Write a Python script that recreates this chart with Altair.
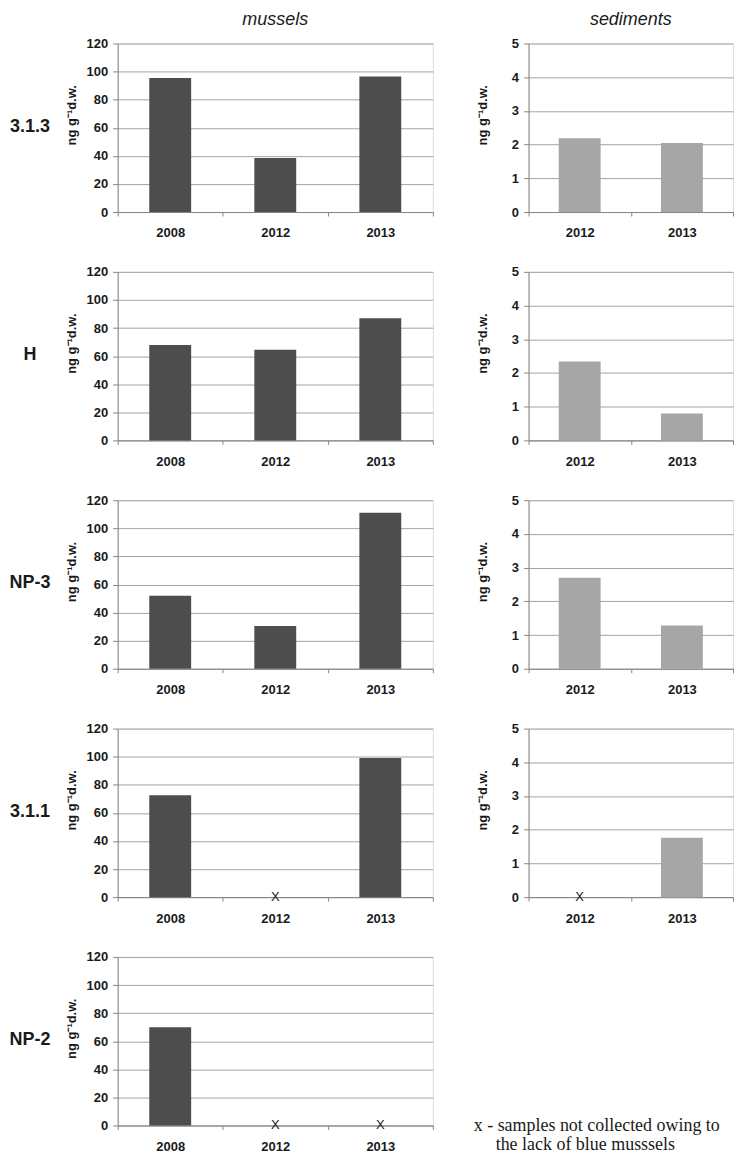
import altair as alt
import pandas as pd

# ---- data ----
sites = ["3.1.3", "H", "NP-3", "3.1.1", "NP-2"]
mussel_years = ["2008", "2012", "2013"]
sediment_years = ["2012", "2013"]

mussels_313 = [95.5, 38.5, 96.5]
mussels_h = [68.0, 64.5, 87.0]
mussels_np3 = [52.0, 30.5, 111.0]
mussels_311 = [72.5, None, 99.0]
mussels_np2 = [70.0, None, None]

sediments_313 = [2.19, 2.05]
sediments_h = [2.34, 0.80]
sediments_np3 = [2.70, 1.28]
sediments_311 = [None, 1.76]

mussel_ticks = [0, 20, 40, 60, 80, 100, 120]
sediment_ticks = [0, 1, 2, 3, 4, 5]

column_titles = ["mussels", "sediments"]
y_title = "ng g\u207b\u00b9d.w."
missing_mark = "X"
note_lines = ["x - samples not collected owing to", "the lack of blue musssels"]

# ---- style ----
FONT = "Liberation Sans"
SERIF = "Liberation Serif"
TXT = "#1a1a1a"
DARK = "#4d4d4d"
LIGHT = "#a6a6a6"
GRID = "#a3a3a3"
AXIS = "#868686"
PW_M, PW_S, PH = 316, 205, 169


def col_title(t):
    return alt.TitleParams(
        text=t, frame="group", anchor="middle", orient="top", offset=-5,
        baseline="alphabetic", font=FONT, fontSize=18, fontStyle="italic",
        fontWeight="normal", color=TXT,
    )


def panel(years, values, color, ticks, width, label=None, title=None):
    df = pd.DataFrame({"year": years, "value": values})
    df["missing"] = df["value"].isna()
    df["base"] = 0
    x = alt.X(
        "year:N",
        scale=alt.Scale(domain=years, paddingInner=0, paddingOuter=0),
        axis=alt.Axis(
            title=None, labelAngle=0, tickBand="extent", grid=False,
            labelFont=FONT, labelFontSize=13, labelFontWeight="bold",
            labelColor=TXT, domainColor=AXIS, tickColor=AXIS,
            tickSize=4, labelPadding=11,
        ),
    )
    yaxis = alt.Axis(
        values=ticks, title=y_title, titleX=-46, titleY=PH / 2 - 13,
        titleAngle=270, titleAlign="center", titleBaseline="middle",
        titleFont=FONT, titleFontSize=13, titleFontWeight="bold",
        titleColor=TXT, labelFont=FONT, labelFontSize=13,
        labelFontWeight="bold", labelColor=TXT, labelPadding=5,
        tickSize=5, tickColor=AXIS, domainColor=AXIS, gridColor=GRID,
    )
    yscale = alt.Scale(domain=[0, ticks[-1]], nice=False)
    base = alt.Chart(df)
    bars = base.mark_bar(color=color, size=42).encode(
        x=x, y=alt.Y("value:Q", scale=yscale, axis=yaxis)
    )
    marks = base.transform_filter("datum.missing").mark_text(
        text=missing_mark, font=FONT, fontSize=13, color=TXT, baseline="middle"
    ).encode(x=x, y=alt.Y("base:Q", scale=yscale, axis=yaxis))
    layers = [bars, marks]
    if label is not None:
        lab = alt.Chart(pd.DataFrame({"site": [label]})).mark_text(
            align="center", baseline="middle", font=FONT, fontSize=18,
            fontWeight="bold", color=TXT,
        ).encode(text="site:N", x=alt.value(-88), y=alt.value(PH / 2 - 1))
        layers.append(lab)
    ch = alt.layer(*layers).properties(width=width, height=PH)
    if title is not None:
        ch = ch.properties(title=col_title(title))
    return ch


mussel_series = [mussels_313, mussels_h, mussels_np3, mussels_311, mussels_np2]
sediment_series = [sediments_313, sediments_h, sediments_np3, sediments_311]

panels = []
for i, site in enumerate(sites):
    panels.append(
        panel(mussel_years, mussel_series[i], DARK, mussel_ticks, PW_M,
              label=site, title=column_titles[0] if i == 0 else None)
    )
    if i < len(sediment_series):
        panels.append(
            panel(sediment_years, sediment_series[i], LIGHT, sediment_ticks, PW_S,
                  title=column_titles[1] if i == 0 else None)
        )

note1 = alt.Chart(pd.DataFrame({"t": [note_lines[0]]})).mark_text(
    align="left", baseline="middle", font=SERIF, fontSize=18, color=TXT
).encode(text="t:N", x=alt.value(-55), y=alt.value(PH + 1))
note2 = alt.Chart(pd.DataFrame({"t": [note_lines[1]]})).mark_text(
    align="left", baseline="middle", font=SERIF, fontSize=18, color=TXT
).encode(text="t:N", x=alt.value(-33), y=alt.value(PH + 20))
note = alt.layer(note1, note2).properties(
    width=PW_S, height=PH, view=alt.ViewBackground(stroke="transparent")
)
panels.append(note)

chart = alt.concat(
    *panels, columns=2, bounds="flush", spacing={"column": 96, "row": 60}
).properties(
    padding={"left": 0, "top": 0, "right": 0, "bottom": 0}
).configure_view(stroke=GRID, strokeWidth=1).configure(background="white")

chart.save("out.html", embed_options={"renderer": "svg", "actions": False})
